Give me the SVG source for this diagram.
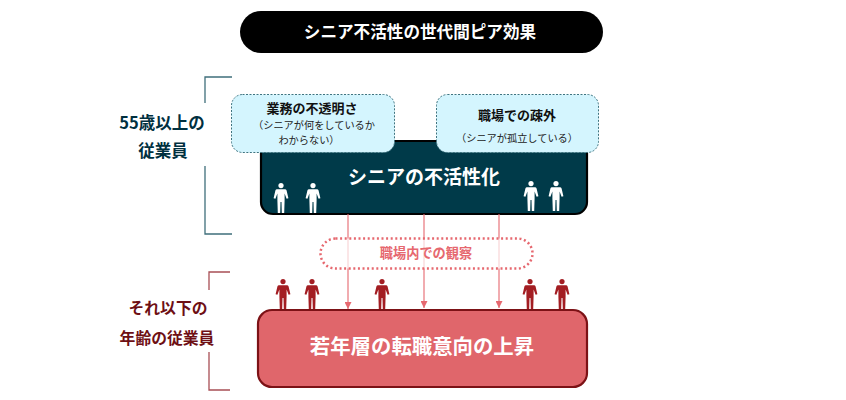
<svg xmlns="http://www.w3.org/2000/svg" width="846" height="400" viewBox="0 0 846 400">
<style>
text{font-family:"Noto Sans CJK JP","Noto Sans",sans-serif;text-anchor:middle}
.b{font-weight:700}
.call{fill:#d4f5fe;stroke:#3f7480;stroke-width:1;stroke-dasharray:2 1.5}
.side1{fill:#00303f;font-size:16.500px;font-weight:700}
.side2{fill:#6e0f14;font-size:15.800px;font-weight:700}
.sub{fill:#222;font-size:10.200px}
.head{fill:#111;font-size:13px;font-weight:700}
.br1{fill:none;stroke:#3f6f7b;stroke-width:1.3}
.br2{fill:none;stroke:#a84f55;stroke-width:1.3}
.arrow{fill:none;stroke:#e6686f;stroke-width:1.1;marker-end:url(#ah)}
</style>
<defs>
<marker id="ah" markerUnits="userSpaceOnUse" markerWidth="8" markerHeight="7" refX="7" refY="3.5" orient="auto"><path d="M0 0L7 3.5L0 7z" fill="#e6686f"/></marker>
<symbol id="person" viewBox="-8 0 16 30" overflow="visible">
<circle cx="0" cy="2.6" r="2.6"/>
<path d="M-4 6.2H4Q5.2 6.2 5.6 7.6L7.4 15.2L5.6 15.8L3.6 10.6V17.6L3.2 30H0.8L0.5 19H-0.5L-0.8 30H-3.2L-3.6 17.6V10.6L-5.6 15.8L-7.4 15.2L-5.6 7.6Q-5.2 6.2-4 6.2z"/>
</symbol>
</defs>
<g id="title"><rect x="240" y="11" width="363" height="42" rx="21" fill="#000"/><text class="b" x="420" y="37.500" font-size="16.600" fill="#fff">シニア不活性の世代間ピア効果</text></g>
<g id="senior-bracket"><path class="br1" d="M232 77H205V103M205 166V234H232"/><text class="side1" x="162" y="129">55歳以上の</text><text class="side1" x="163" y="157">従業員</text></g>
<g id="junior-bracket"><path class="br2" d="M230 272H209V290M209 352V390H230"/><text class="side2" x="168" y="314">それ以下の</text><text class="side2" x="167" y="344">年齢の従業員</text></g>
<g id="senior-box"><rect x="261" y="141" width="326" height="73" rx="12" fill="#003a49" stroke="#000" stroke-width="2.200"/><text class="b" x="424" y="184" font-size="19" fill="#fff">シニアの不活性化</text>
<g fill="#fff"><use href="#person" x="273" y="183" width="16" height="30"/><use href="#person" x="305" y="183" width="16" height="30"/><use href="#person" x="523" y="181" width="16" height="30"/><use href="#person" x="548" y="181" width="16" height="30"/></g></g>
<g id="connectors"><path class="arrow" d="M348 214V309"/><path class="arrow" d="M424 214V308"/><path class="arrow" d="M499 214V308"/></g>
<g id="callout-left"><rect class="call" x="231.500" y="94.500" width="163" height="58" rx="11"/><text class="head" x="312" y="113">業務の不透明さ</text><text class="sub" x="314" y="129">（シニアが何をしているか</text><text class="sub" x="309" y="144">わからない）</text></g>
<g id="callout-right"><rect class="call" x="436.500" y="94.500" width="162" height="58" rx="11"/><text class="head" x="517" y="120">職場での疎外</text><text class="sub" x="517" y="142">（シニアが孤立している）</text></g>
<g id="observation"><rect x="320.500" y="238.500" width="212" height="30" rx="15" fill="#fff" fill-opacity=".7" stroke="#e6686f" stroke-width="2.500" stroke-dasharray="2 2.600"/><text class="b" x="426" y="258" font-size="13.200" fill="#e6686f">職場内での観察</text></g>
<g id="junior-people" fill="#a31d22"><use href="#person" x="275" y="279" width="16" height="30"/><use href="#person" x="304" y="279" width="16" height="30"/><use href="#person" x="374" y="279" width="16" height="30"/><use href="#person" x="522" y="279" width="16" height="30"/><use href="#person" x="554" y="279" width="16" height="30"/></g>
<g id="junior-box"><rect x="258" y="310" width="329" height="77" rx="14" fill="#e0666b" stroke="#7c1216" stroke-width="2.200"/><text class="b" x="422" y="353.500" font-size="20.400" fill="#fff">若年層の転職意向の上昇</text></g>
</svg>
